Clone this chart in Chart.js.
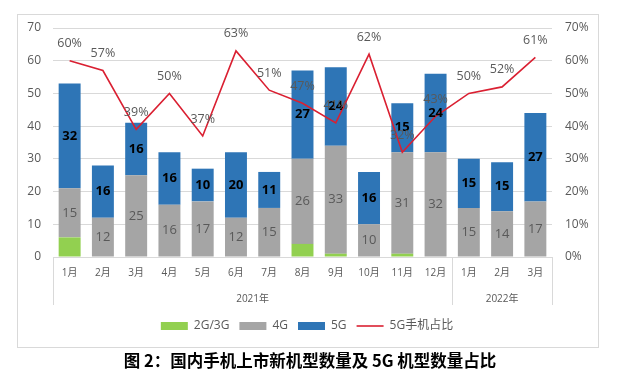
<!DOCTYPE html>
<html><head><meta charset="utf-8">
<script src="https://cdn.jsdelivr.net/npm/chart.js@4/dist/chart.umd.min.js"></script>
<style>
html,body{margin:0;padding:0;background:#fff;}
#wrap{position:relative;width:641px;height:384px;overflow:hidden;}
#frame{position:absolute;left:17px;top:14px;width:582px;height:334px;border:1px solid #d9d9d9;box-sizing:border-box;}
canvas{position:absolute;left:0;top:0;}
#title{position:absolute;left:0;width:620px;top:349px;text-align:center;font:bold 16.5px "Noto Sans CJK SC",sans-serif;color:#000;line-height:22px;}
</style></head>
<body>
<div id="wrap">
<div id="frame"></div>
<canvas id="c" width="641" height="384"></canvas>
<div id="title">图 2：国内手机上市新机型数量及 5G 机型数量占比</div>
</div>
<script>
const months = ['1月','2月','3月','4月','5月','6月','7月','8月','9月','10月','11月','12月','1月','2月','3月'];
const yearLabels = ['2021年','2022年'];
const yearSpans = [12,3];
const g23 = [6,0,0,0,0,0,0,4,1,0,1,0,0,0,0];
const g4  = [15,12,25,16,17,12,15,26,33,10,31,32,15,14,17];
const g5  = [32,16,16,16,10,20,11,27,24,16,15,24,15,15,27];
const share = [60,57,39,50,37,63,51,47,41,62,32,43,50,52,61];
const seriesNames = ['2G/3G','4G','5G','5G手机占比'];
const leftTicks = [0,10,20,30,40,50,60,70];

Chart.defaults.font.family = '"Open Sans","Noto Sans CJK SC",sans-serif';
Chart.defaults.color = '#595959';

const annot = {
  id:'annot',
  afterDatasetsDraw(chart){
    const ctx = chart.ctx, xs = chart.scales.x, ca = chart.chartArea;
    ctx.save();
    ctx.textAlign='center'; ctx.textBaseline='middle';
    [1,2].forEach(di=>{
      const meta = chart.getDatasetMeta(di);
      meta.data.forEach((el,i)=>{
        const v = chart.data.datasets[di].data[i];
        if(!v) return;
        ctx.font = di===2 ? 'bold 13px "Open Sans"' : '13px "Open Sans"';
        ctx.fillStyle = di===2 ? '#000' : '#595959';
        ctx.fillText(String(v), el.x, (el.y+el.base)/2);
      });
    });
    const lm = chart.getDatasetMeta(3);
    ctx.font = '12.5px "Open Sans"'; ctx.fillStyle = '#595959';
    lm.data.forEach((p,i)=>{ ctx.fillText(share[i]+'%', p.x, p.y-17); });
    // multi-level category separators
    const half = (xs.getPixelForValue(1)-xs.getPixelForValue(0))/2;
    let idx = 0;
    const bounds = [xs.getPixelForValue(0)-half];
    yearSpans.forEach(s=>{ idx += s; bounds.push(xs.getPixelForValue(idx-1)+half); });
    ctx.strokeStyle = '#d9d9d9'; ctx.lineWidth = 1;
    bounds.forEach(b=>{
      const bx = Math.round(b)+0.5;
      ctx.beginPath(); ctx.moveTo(bx, ca.bottom); ctx.lineTo(bx, ca.bottom+48); ctx.stroke();
    });
    ctx.font = '10px "Open Sans","Noto Sans CJK SC"'; ctx.fillStyle = '#595959';
    yearLabels.forEach((t,i)=>{ ctx.fillText(t, (bounds[i]+bounds[i+1])/2, ca.bottom+42); });
    ctx.restore();
  }
};

new Chart(document.getElementById('c'), {
  data:{
    labels: months,
    datasets:[
      {type:'bar', label:seriesNames[0], data:g23, backgroundColor:'#92D050', order:1, yAxisID:'y'},
      {type:'bar', label:seriesNames[1], data:g4, backgroundColor:'#A5A5A5', order:1, yAxisID:'y'},
      {type:'bar', label:seriesNames[2], data:g5, backgroundColor:'#2E75B6', order:1, yAxisID:'y'},
      {type:'line', label:seriesNames[3], data:share, borderColor:'#DA2032', backgroundColor:'#DA2032', borderWidth:1.6, pointRadius:0, tension:0, order:0, yAxisID:'y1'}
    ]
  },
  options:{
    responsive:false, animation:false,
    layout:{padding:{left:17,right:44,top:28,bottom:42}},
    datasets:{bar:{categoryPercentage:1, barPercentage:0.66}},
    plugins:{
      tooltip:{enabled:false},
      legend:{
        position:'bottom',
        labels:{
          usePointStyle:true, pointStyleWidth:27, boxHeight:8, padding:10,
          font:{size:12}, color:'#595959',
          sort:(a,b)=>a.datasetIndex-b.datasetIndex,
          generateLabels(chart){
            const items = Chart.defaults.plugins.legend.labels.generateLabels(chart);
            items.forEach(it=>{
              if(it.datasetIndex===3){ it.pointStyle='line'; it.lineWidth=1.6; it.strokeStyle='#DA2032'; }
              else { it.pointStyle='rect'; it.lineWidth=0; }
            });
            return items;
          }
        }
      }
    },
    scales:{
      x:{
        stacked:true,
        grid:{display:false, drawTicks:false},
        border:{display:false},
        ticks:{padding:10, font:{size:10}, color:'#595959', maxRotation:0, autoSkip:false},
        afterFit(s){ s.height = 53; }
      },
      y:{
        stacked:true, min:0, max:70,
        afterBuildTicks(s){ s.ticks = leftTicks.map(v=>({value:v})); },
        grid:{color:'#d9d9d9', drawTicks:false},
        border:{display:false},
        ticks:{padding:12, font:{size:12}, color:'#595959'},
        afterFit(s){ s.width = 36; }
      },
      y1:{
        position:'right', min:0, max:70,
        afterBuildTicks(s){ s.ticks = leftTicks.map(v=>({value:v})); },
        grid:{display:false, drawTicks:false},
        border:{display:false},
        ticks:{padding:13, font:{size:12}, color:'#595959', callback:v=>v+'%'},
        afterFit(s){ s.width = 45; }
      }
    }
  },
  plugins:[annot]
});
</script>
</body></html>
